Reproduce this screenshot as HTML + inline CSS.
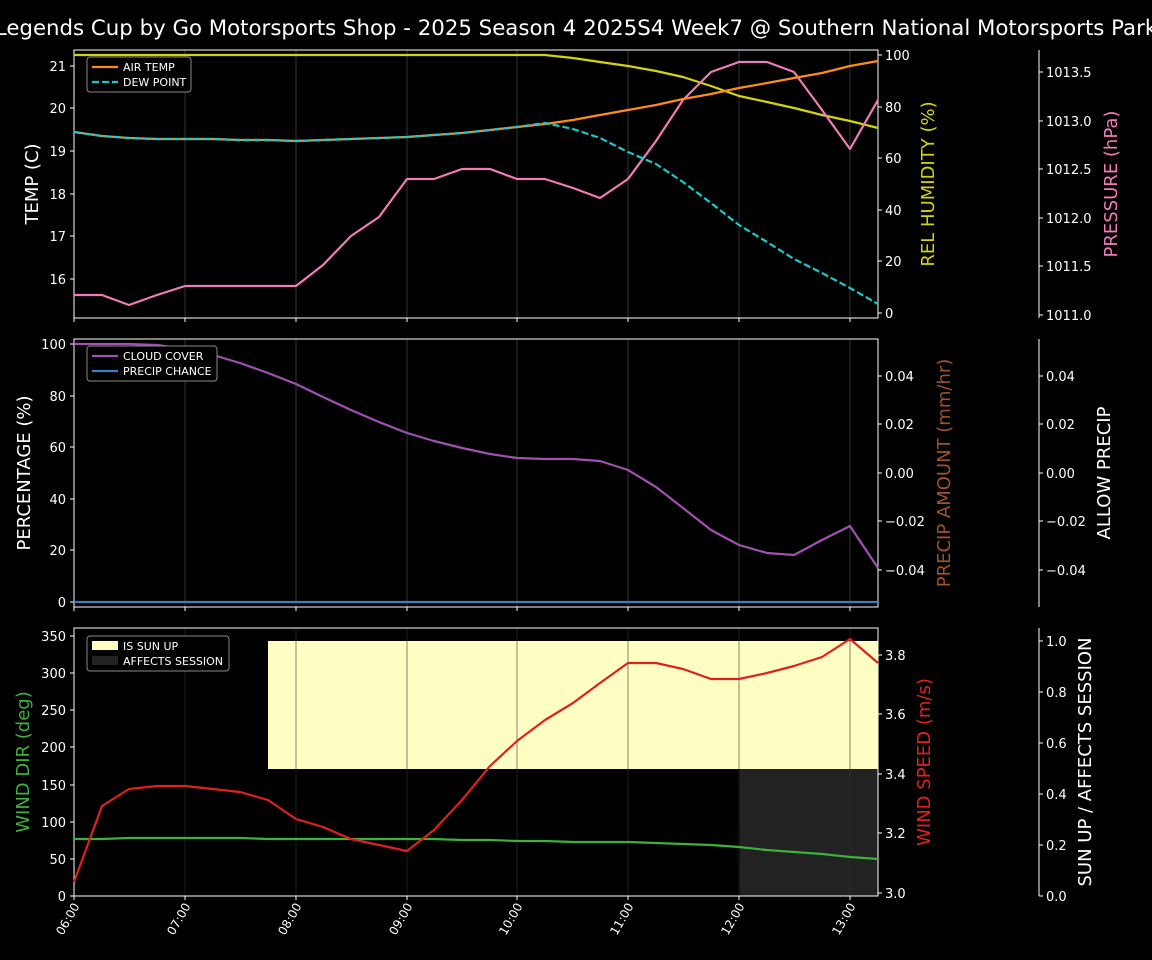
<!DOCTYPE html>
<html><head><meta charset="utf-8"><style>body{margin:0;background:#000}svg{display:block}text{font-family:"DejaVu Sans","Liberation Sans",sans-serif;fill:#fff}</style></head><body>
<svg width="1152" height="960" viewBox="0 0 1152 960" xmlns="http://www.w3.org/2000/svg">
<rect width="1152" height="960" fill="#000"/>
<text x="576" y="35" font-size="21.3" text-anchor="middle">Legends Cup by Go Motorsports Shop - 2025 Season 4 2025S4 Week7 @ Southern National Motorsports Park</text>
<g stroke="#333" stroke-width="1">
<path d="M185 50V318M296 50V318M407 50V318M517 50V318M628 50V318M739 50V318M850 50V318"/>
<path d="M185 339V607M296 339V607M407 339V607M517 339V607M628 339V607M739 339V607M850 339V607"/>
</g>
<rect x="268" y="641" width="610" height="128" fill="#ffffc4"/>
<rect x="740" y="769" width="138" height="127" fill="#222"/>
<g stroke="#333" stroke-width="1" opacity="0.6">
<path d="M185 628V896M296 628V896M407 628V896M517 628V896M628 628V896M739 628V896M850 628V896"/>
</g>
<g fill="none" stroke="#fff" stroke-width="1">
<rect x="74" y="50" width="804" height="268"/>
<rect x="74" y="339" width="804" height="268"/>
<rect x="74" y="628" width="804" height="268"/>
<path d="M1039 50V318M1039 339V607M1039 628V896"/>
</g>
<g stroke="#fff" stroke-width="1">
<path d="M74 318v4M185 318v4M296 318v4M407 318v4M517 318v4M628 318v4M739 318v4M850 318v4M74 607v4M185 607v4M296 607v4M407 607v4M517 607v4M628 607v4M739 607v4M850 607v4M74 896v4M185 896v4M296 896v4M407 896v4M517 896v4M628 896v4M739 896v4M850 896v4"/>
<path d="M70 66h4M70 108h4M70 151h4M70 194h4M70 236h4M70 279h4"/>
<path d="M878 55h4M878 107h4M878 158h4M878 210h4M878 261h4M878 313h4"/>
<path d="M1039 72h4M1039 121h4M1039 169h4M1039 218h4M1039 266h4M1039 315h4"/>
<path d="M70 344h4M70 396h4M70 447h4M70 499h4M70 550h4M70 602h4"/>
<path d="M878 376h4M878 424h4M878 473h4M878 521h4M878 570h4M1039 376h4M1039 424h4M1039 473h4M1039 521h4M1039 570h4"/>
<path d="M70 636h4M70 673h4M70 710h4M70 747h4M70 785h4M70 822h4M70 859h4M70 896h4"/>
<path d="M878 655h4M878 714h4M878 774h4M878 833h4M878 893h4"/>
<path d="M1039 641h4M1039 692h4M1039 743h4M1039 794h4M1039 845h4M1039 896h4"/>
</g>
<g font-size="13" text-anchor="end">
<text x="66" y="71">21</text><text x="66" y="113">20</text><text x="66" y="156">19</text><text x="66" y="199">18</text><text x="66" y="241">17</text><text x="66" y="284">16</text>
<text x="66" y="349">100</text><text x="66" y="401">80</text><text x="66" y="452">60</text><text x="66" y="504">40</text><text x="66" y="555">20</text><text x="66" y="607">0</text>
<text x="66" y="641">350</text><text x="66" y="678">300</text><text x="66" y="715">250</text><text x="66" y="752">200</text><text x="66" y="790">150</text><text x="66" y="827">100</text><text x="66" y="864">50</text><text x="66" y="901">0</text>
</g>
<g font-size="13">
<text x="885" y="60">100</text><text x="885" y="112">80</text><text x="885" y="163">60</text><text x="885" y="215">40</text><text x="885" y="266">20</text><text x="885" y="318">0</text>
<text x="1046" y="77">1013.5</text><text x="1046" y="126">1013.0</text><text x="1046" y="174">1012.5</text><text x="1046" y="223">1012.0</text><text x="1046" y="271">1011.5</text><text x="1046" y="320">1011.0</text>
<text x="885" y="381">0.04</text><text x="885" y="429">0.02</text><text x="885" y="478">0.00</text><text x="885" y="526">−0.02</text><text x="885" y="575">−0.04</text>
<text x="1046" y="381">0.04</text><text x="1046" y="429">0.02</text><text x="1046" y="478">0.00</text><text x="1046" y="526">−0.02</text><text x="1046" y="575">−0.04</text>
<text x="885" y="660">3.8</text><text x="885" y="719">3.6</text><text x="885" y="779">3.4</text><text x="885" y="838">3.2</text><text x="885" y="898">3.0</text>
<text x="1046" y="646">1.0</text><text x="1046" y="697">0.8</text><text x="1046" y="748">0.6</text><text x="1046" y="799">0.4</text><text x="1046" y="850">0.2</text><text x="1046" y="901">0.0</text>
</g>
<g font-size="12" text-anchor="end">
<text transform="translate(80 906) rotate(-60)">06:00</text><text transform="translate(191 906) rotate(-60)">07:00</text><text transform="translate(302 906) rotate(-60)">08:00</text><text transform="translate(413 906) rotate(-60)">09:00</text><text transform="translate(523 906) rotate(-60)">10:00</text><text transform="translate(634 906) rotate(-60)">11:00</text><text transform="translate(745 906) rotate(-60)">12:00</text><text transform="translate(856 906) rotate(-60)">13:00</text>
</g>
<g font-size="18" text-anchor="middle">
<text transform="translate(38 184) rotate(-90)">TEMP (C)</text>
<text transform="translate(934 184) rotate(-90)" style="fill:#d4d40c">REL HUMIDITY (%)</text>
<text transform="translate(1117 184) rotate(-90)" style="fill:#f07cb8">PRESSURE (hPa)</text>
<text transform="translate(30 473) rotate(-90)">PERCENTAGE (%)</text>
<text transform="translate(950 473) rotate(-90)" style="fill:#a0522d">PRECIP AMOUNT (mm/hr)</text>
<text transform="translate(1110 473) rotate(-90)">ALLOW PRECIP</text>
<text transform="translate(29 762) rotate(-90)" style="fill:#3cb13c">WIND DIR (deg)</text>
<text transform="translate(930 762) rotate(-90)" style="fill:#e02020">WIND SPEED (m/s)</text>
<text transform="translate(1091 762) rotate(-90)">SUN UP / AFFECTS SESSION</text>
</g>
<g fill="none" stroke-width="2.2" stroke-linejoin="round">
<polyline stroke="#d4d40c" points="74,55 102,55 129,55 157,55 185,55 213,55 240,55 268,55 296,55 323,55 351,55 379,55 407,55 434,55 462,55 490,55 517,55 545,55 573,58 600,62 628,66 656,71 683,77 711,86 739,96 767,102 794,108 822,115 850,121 878,128"/>
<polyline stroke="#f07cb8" points="74,295 102,295 129,305 157,295 185,286 213,286 240,286 268,286 296,286 323,265 351,236 379,217 407,179 434,179 462,169 490,169 517,179 545,179 573,188 600,198 628,179 656,141 683,100 711,72 739,62 767,62 794,72 822,110 850,149 878,100"/>
<polyline stroke="#ff8c1a" points="74,132 102,136 129,138 157,139 185,139 213,139 240,140 268,140 296,141 323,140 351,139 379,138 407,137 434,135 462,133 490,130 517,127 545,124 573,120 600,115 628,110 656,105 683,99 711,94 739,88 767,83 794,78 822,73 850,66 878,61"/>
<polyline stroke="#1ec8c8" stroke-dasharray="7,3" points="74,132 102,136 129,138 157,139 185,139 213,139 240,140 268,140 296,141 323,140 351,139 379,138 407,137 434,135 462,133 490,130 517,127 545,123 573,129 600,138 628,152 656,164 683,182 711,203 739,225 767,242 794,259 822,273 850,288 878,304"/>
<polyline stroke="#a050b0" points="74,344 102,344 129,344 157,345 185,349 213,355 240,363 268,373 296,384 323,397 351,410 379,422 407,433 434,441 462,448 490,454 517,458 545,459 573,459 600,461 628,470 656,487 683,508 711,530 739,545 767,553 794,555 822,540 850,526 878,568"/>
<line x1="74" y1="602" x2="878" y2="602" stroke="#3a7fc0"/>
<polyline stroke="#3cb13c" points="74,839 102,839 129,838 157,838 185,838 213,838 240,838 268,839 296,839 323,839 351,839 379,839 407,839 434,839 462,840 490,840 517,841 545,841 573,842 600,842 628,842 656,843 683,844 711,845 739,847 767,850 794,852 822,854 850,857 878,859"/>
<polyline stroke="#e02020" points="74,882 102,806 129,789 157,786 185,786 213,789 240,792 268,800 296,819 323,827 351,839 379,845 407,851 434,830 462,800 490,766 517,741 545,720 573,703 600,683 628,663 656,663 683,669 711,679 739,679 767,673 794,666 822,657 850,639 878,663"/>
</g>
<g font-size="11">
<rect x="87" y="57" width="104" height="35" rx="3" fill="#000" stroke="#888"/>
<line x1="92" y1="67" x2="118" y2="67" stroke="#ff8c1a" stroke-width="2.2"/><text x="123" y="71">AIR TEMP</text>
<line x1="92" y1="82" x2="118" y2="82" stroke="#1ec8c8" stroke-width="2.2" stroke-dasharray="7,3"/><text x="123" y="86">DEW POINT</text>
<rect x="87" y="346" width="130" height="35" rx="3" fill="#000" stroke="#888"/>
<line x1="92" y1="356" x2="118" y2="356" stroke="#a050b0" stroke-width="2.2"/><text x="123" y="360">CLOUD COVER</text>
<line x1="92" y1="371" x2="118" y2="371" stroke="#3a7fc0" stroke-width="2.2"/><text x="123" y="375">PRECIP CHANCE</text>
<rect x="87" y="636" width="142" height="35" rx="3" fill="#000" stroke="#888"/>
<rect x="92" y="641" width="26" height="9" fill="#ffffc4"/><text x="123" y="650">IS SUN UP</text>
<rect x="92" y="656" width="26" height="9" fill="#222"/><text x="123" y="665">AFFECTS SESSION</text>
</g>
</svg>
</body></html>
